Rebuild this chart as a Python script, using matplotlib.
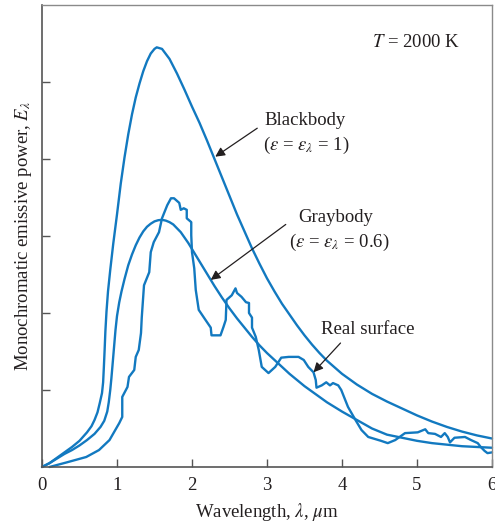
import matplotlib
matplotlib.use("Agg")
import matplotlib.pyplot as plt

plt.rcParams['font.family'] = ['Liberation Serif', 'DejaVu Serif']
plt.rcParams['mathtext.fontset'] = 'stix'

# Blackbody curve (wavelength in um, relative emissive power)
bb_x = [0, 0.10, 0.20, 0.30, 0.40, 0.50, 0.60, 0.66, 0.70, 0.74, 0.77, 0.80, 0.815, 0.825,
        0.835, 0.845, 0.86, 0.88, 0.91, 0.95, 1.00, 1.05, 1.10, 1.15, 1.20, 1.25, 1.30,
        1.35, 1.40, 1.45, 1.50, 1.53, 1.60, 1.70, 1.80, 1.90, 2.00, 2.10, 2.20, 2.30,
        2.40, 2.50, 2.60, 2.70, 2.80, 2.90, 3.00, 3.10, 3.20, 3.30, 3.40, 3.50, 3.60,
        3.70, 3.80, 4.00, 4.20, 4.40, 4.60, 4.80, 5.00, 5.20, 5.40, 5.60, 5.80, 6.00]
bb_y = [0, 0.05, 0.12, 0.19, 0.26, 0.34, 0.45, 0.53, 0.61, 0.71, 0.83, 0.96, 1.10, 1.30,
        1.52, 1.76, 2.02, 2.28, 2.56, 2.90, 3.28, 3.68, 4.02, 4.32, 4.58, 4.80, 4.98,
        5.14, 5.27, 5.37, 5.43, 5.45, 5.43, 5.30, 5.11, 4.90, 4.68, 4.47, 4.24, 4.00,
        3.76, 3.52, 3.28, 3.06, 2.84, 2.64, 2.45, 2.28, 2.12, 1.98, 1.84, 1.71, 1.59,
        1.48, 1.38, 1.21, 1.07, 0.95, 0.85, 0.76, 0.67, 0.59, 0.52, 0.46, 0.41, 0.37]

# Graybody curve
gb_x = [0, 0.10, 0.20, 0.30, 0.40, 0.50, 0.60, 0.70, 0.78, 0.83, 0.87, 0.89, 0.91, 0.925,
        0.94, 0.96, 0.98, 1.00, 1.03, 1.06, 1.10, 1.15, 1.20, 1.25, 1.30, 1.35, 1.40,
        1.45, 1.50, 1.55, 1.60, 1.65, 1.70, 1.75, 1.80, 1.85, 1.90, 1.95, 2.00, 2.10,
        2.20, 2.30, 2.40, 2.50, 2.60, 2.70, 2.80, 2.90, 3.00, 3.10, 3.20, 3.30, 3.40,
        3.50, 3.60, 3.70, 3.80, 3.90, 4.00, 4.20, 4.40, 4.60, 4.80, 5.00, 5.20, 5.40,
        5.60, 5.80, 6.00]
gb_y = [0, 0.05, 0.11, 0.17, 0.22, 0.28, 0.35, 0.43, 0.52, 0.60, 0.72, 0.84, 1.00, 1.15,
        1.32, 1.55, 1.78, 1.96, 2.14, 2.28, 2.44, 2.62, 2.76, 2.88, 2.98, 3.06, 3.12,
        3.16, 3.19, 3.205, 3.21, 3.20, 3.18, 3.15, 3.10, 3.05, 2.98, 2.91, 2.83, 2.67,
        2.51, 2.35, 2.20, 2.06, 1.93, 1.81, 1.69, 1.58, 1.48, 1.39, 1.30, 1.21, 1.13,
        1.05, 0.98, 0.91, 0.84, 0.78, 0.72, 0.61, 0.50, 0.42, 0.38, 0.34, 0.31, 0.29,
        0.27, 0.26, 0.25]

# Real surface curve
rs_x = [0.10, 0.33, 0.59, 0.76, 0.90, 1.03, 1.07, 1.07, 1.14, 1.16, 1.23, 1.25, 1.29, 1.32,
        1.33, 1.36, 1.43, 1.45, 1.49, 1.56, 1.60, 1.67, 1.72, 1.76, 1.83, 1.85, 1.89,
        1.93, 1.93, 1.99, 1.99, 2.00, 2.03, 2.05, 2.09, 2.18, 2.25, 2.26, 2.38, 2.42,
        2.45, 2.46, 2.53, 2.58, 2.60, 2.66, 2.72, 2.76, 2.76, 2.80, 2.80, 2.85, 2.89,
        2.93, 3.02, 3.11, 3.19, 3.29, 3.42, 3.49, 3.55, 3.62, 3.65, 3.66, 3.73, 3.79,
        3.84, 3.88, 3.95, 3.99, 4.08, 4.18, 4.26, 4.35, 4.52, 4.61, 4.71, 4.84, 5.01,
        5.11, 5.15, 5.24, 5.32, 5.37, 5.41, 5.44, 5.50, 5.64, 5.72, 5.81, 5.85, 5.90,
        5.94, 6.0]
rs_y = [0, 0.06, 0.13, 0.22, 0.35, 0.57, 0.65, 0.91, 1.04, 1.17, 1.26, 1.43, 1.52, 1.74,
        1.94, 2.36, 2.53, 2.79, 2.92, 3.05, 3.23, 3.40, 3.49, 3.49, 3.43, 3.34, 3.36,
        3.34, 3.23, 3.18, 3.01, 2.79, 2.58, 2.30, 2.04, 1.91, 1.81, 1.71, 1.71, 1.82,
        1.91, 2.17, 2.23, 2.32, 2.26, 2.21, 2.14, 2.13, 2.00, 1.94, 1.81, 1.69, 1.52,
        1.30, 1.22, 1.30, 1.42, 1.43, 1.43, 1.39, 1.30, 1.23, 1.13, 1.03, 1.06, 1.10,
        1.06, 1.09, 1.06, 1.00, 0.78, 0.61, 0.48, 0.39, 0.34, 0.31, 0.35, 0.44, 0.45,
        0.49, 0.44, 0.43, 0.39, 0.44, 0.39, 0.32, 0.38, 0.39, 0.35, 0.31, 0.26, 0.21,
        0.18, 0.19]

x_ticks = [0, 1, 2, 3, 4, 5, 6]
x_ticklabels = ["0", "1", "2", "3", "4", "5", "6"]
y_ticks = [1, 2, 3, 4, 5]

blue = "#1279c0"
txt = "#231f20"
fs = 13.5

fig = plt.figure(figsize=(4.95, 5.25), dpi=100)
ax = fig.add_axes([42 / 495, 1 - 467 / 525, 450 / 495, 462 / 525])

for xs, ys in [(bb_x, bb_y), (gb_x, gb_y), (rs_x, rs_y)]:
    ax.plot(xs, ys, color=blue, lw=1.7, solid_joinstyle='round', solid_capstyle='round',
            clip_on=False)

ax.set_xlim(0, 5.97)
ax.set_ylim(0, 6)
ax.set_xticks(x_ticks)
ax.set_xticklabels(x_ticklabels, fontsize=fs, color=txt)
ax.set_yticks(y_ticks)
ax.set_yticklabels([])
ax.tick_params(axis='both', direction='in', length=6, width=1, color='#555555')
ax.tick_params(axis='x', pad=7)

for side in ['left', 'bottom']:
    ax.spines[side].set_color('#555555')
    ax.spines[side].set_linewidth(1.2)
for side in ['top', 'right']:
    ax.spines[side].set_color('#8a8a8a')
    ax.spines[side].set_linewidth(1.0)

ax.set_xlabel(r"Wavelength, $\lambda$, $\mu$m", fontsize=fs, color=txt, labelpad=5)
ax.set_ylabel(r"Monochromatic emissive power, $E_\lambda$", fontsize=fs, color=txt,
              labelpad=2)

ax.text(4.99, 5.51, r"$T$ = 2000 K", fontsize=fs, color=txt, ha='center', va='center')

ax.text(2.97, 4.50, "Blackbody", fontsize=fs, color=txt, ha='left', va='center')
ax.text(2.95, 4.18, r"($\varepsilon$ = $\varepsilon_\lambda$ = 1)", fontsize=fs, color=txt,
        ha='left', va='center')
ax.annotate("", xy=(2.31, 4.03), xytext=(2.87, 4.40),
            arrowprops=dict(arrowstyle='-|>', color=txt, lw=0.9, mutation_scale=14,
                            shrinkA=0, shrinkB=0))

ax.text(3.42, 3.24, "Graybody", fontsize=fs, color=txt, ha='left', va='center')
ax.text(3.29, 2.91, r"($\varepsilon$ = $\varepsilon_\lambda$ = 0.6)", fontsize=fs,
        color=txt, ha='left', va='center')
ax.annotate("", xy=(2.25, 2.43), xytext=(3.25, 3.15),
            arrowprops=dict(arrowstyle='-|>', color=txt, lw=0.9, mutation_scale=14,
                            shrinkA=0, shrinkB=0))

ax.text(3.72, 1.78, "Real surface", fontsize=fs, color=txt, ha='left', va='center')
ax.annotate("", xy=(3.62, 1.23), xytext=(3.98, 1.61),
            arrowprops=dict(arrowstyle='-|>', color=txt, lw=0.9, mutation_scale=14,
                            shrinkA=0, shrinkB=0))

fig.savefig("out.png", dpi=100)
